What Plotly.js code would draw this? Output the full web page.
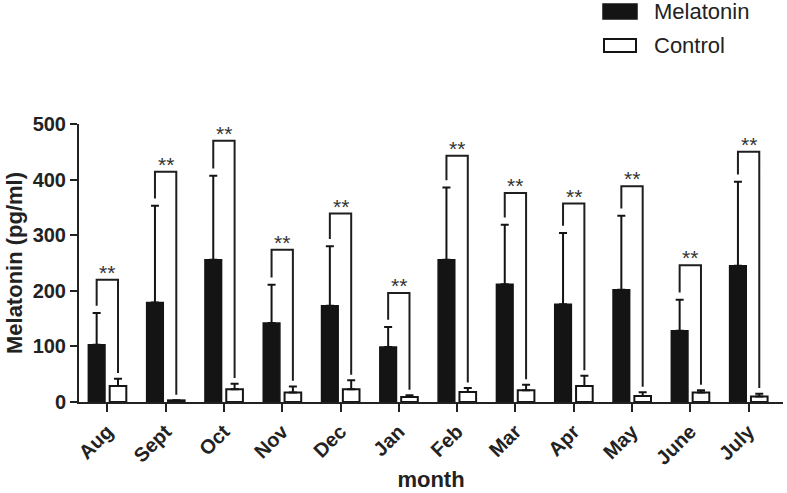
<!DOCTYPE html>
<html>
<head>
<meta charset="utf-8">
<script src="https://cdn.plot.ly/plotly-3.0.1.min.js"></script>
<style>html,body{margin:0;padding:0;background:#fff;}#chart{width:787px;height:493px;}</style>
</head>
<body>
<div id="chart"></div>
<script>
// ---- data ----
const months = ['Aug','Sept','Oct','Nov','Dec','Jan','Feb','Mar','Apr','May','June','July'];
const melatonin = [103,179,256,142,173,99,256,212,176,202,128,245];
const melatoninErr = [57,174,151,69,107,36,130,107,128,133,56,151];
const control = [29,3,23,17,23,9,18,21,29,11,17,10];
const controlErr = [13,0,10,11,16,3,7,10,18,6.5,4,5];
const bracketLevel = [220,414,470,274,339,196,443,376,357,388,246,450];
const sigLabel = ['**','**','**','**','**','**','**','**','**','**','**','**'];

// ---- styling constants ----
const FONT = 'Liberation Sans, Arial, sans-serif';
const BARGAP = 0.268;
const OFF = (1 - BARGAP) / 4;   // half of one bar slot
const idx = months.map((m, i) => i);

const traces = [
  {
    type: 'bar', name: 'Melatonin', x: idx, y: melatonin,
    marker: {color: '#141414', line: {color: '#141414', width: 1.5}},
    error_y: {type: 'data', symmetric: false, array: melatoninErr,
              arrayminus: melatoninErr.map(() => 0), color: '#141414', thickness: 2, width: 4},
    showlegend: false, hoverinfo: 'skip'
  },
  {
    type: 'bar', name: 'Control', x: idx, y: control,
    marker: {color: '#ffffff', line: {color: '#141414', width: 2}},
    error_y: {type: 'data', symmetric: false, array: controlErr,
              arrayminus: controlErr.map(() => 0), color: '#141414', thickness: 2, width: 4},
    showlegend: false, hoverinfo: 'skip'
  }
];

// significance brackets built from the data arrays
const bx = [], by = [];
idx.forEach(i => {
  const leftEnd = melatonin[i] + melatoninErr[i] + 13;
  const rightEnd = control[i] + controlErr[i] + 10;
  bx.push(i - OFF, i - OFF, i + OFF, i + OFF, null);
  by.push(leftEnd, bracketLevel[i], bracketLevel[i], rightEnd, null);
});
traces.push({
  type: 'scatter', mode: 'lines', x: bx, y: by,
  line: {color: '#1e1e1e', width: 2}, showlegend: false, hoverinfo: 'skip', cliponaxis: false
});

const annotations = idx.map(i => ({
  x: i, y: bracketLevel[i], xref: 'x', yref: 'y', text: sigLabel[i],
  showarrow: false, yanchor: 'bottom', yshift: -6,
  font: {family: FONT, size: 21, color: '#333'}
}));

// manual legend
annotations.push(
  {xref: 'paper', yref: 'paper', x: (652-79)/704, y: (402-11)/278, xanchor: 'left', yanchor: 'middle',
   text: 'Melatonin', showarrow: false, font: {family: FONT, size: 22, color: '#222'}},
  {xref: 'paper', yref: 'paper', x: (652-79)/704, y: (402-45)/278, xanchor: 'left', yanchor: 'middle',
   text: 'Control', showarrow: false, font: {family: FONT, size: 22, color: '#222'}}
);
const px = v => (v - 79) / 704;
const py = v => (402 - v) / 278;
const shapes = [
  {type: 'rect', xref: 'paper', yref: 'paper', x0: px(603), x1: px(637), y0: py(19), y1: py(4),
   fillcolor: '#141414', line: {color: '#141414', width: 1.5}},
  {type: 'rect', xref: 'paper', yref: 'paper', x0: px(604), x1: px(636), y0: py(52), y1: py(39),
   fillcolor: '#ffffff', line: {color: '#141414', width: 2}}
];

const layout = {
  width: 787, height: 493,
  margin: {l: 79, r: 4, t: 124, b: 91, pad: 0},
  paper_bgcolor: '#fff', plot_bgcolor: '#fff',
  barmode: 'group', bargap: BARGAP, bargroupgap: 0.22,
  showlegend: false,
  font: {family: FONT, color: '#222'},
  xaxis: {
    type: 'linear', range: [-0.486, 11.59], tickmode: 'array', tickvals: idx, ticktext: months,
    tickangle: -45, ticks: 'outside', ticklen: 8, tickwidth: 2, tickcolor: '#222',
    showline: true, linewidth: 2, linecolor: '#222', showgrid: false, zeroline: false,
    tickfont: {family: FONT, size: 20, weight: 'bold', color: '#222'},
    title: {text: 'month', font: {family: FONT, size: 22, weight: 'bold', color: '#222'}, standoff: 4}
  },
  yaxis: {
    range: [0, 500], dtick: 100, ticks: 'outside', ticklen: 7, tickwidth: 2, tickcolor: '#222',
    showline: true, linewidth: 2, linecolor: '#222', showgrid: false, zeroline: false,
    tickfont: {family: FONT, size: 20, weight: 'bold', color: '#222'},
    title: {text: 'Melatonin (pg/ml)', font: {family: FONT, size: 22, weight: 'bold', color: '#222'}, standoff: 4}
  },
  annotations: annotations,
  shapes: shapes
};

Plotly.newPlot('chart', traces, layout, {displayModeBar: false, staticPlot: true});
</script>
</body>
</html>
